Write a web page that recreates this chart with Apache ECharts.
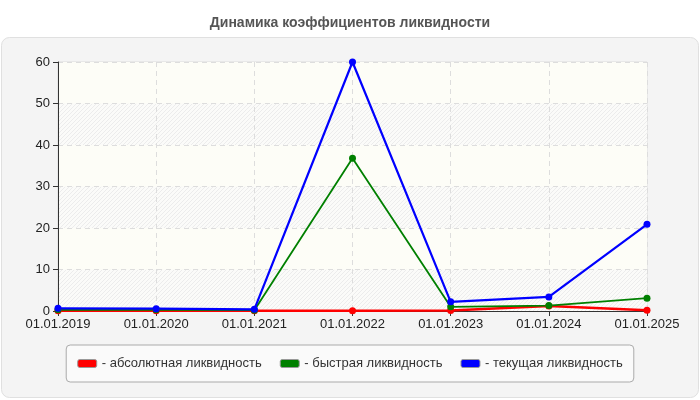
<!DOCTYPE html>
<html>
<head>
<meta charset="utf-8">
<script src="https://cdn.jsdelivr.net/npm/echarts@6/dist/echarts.min.js"></script>
<style>
  html, body { margin: 0; padding: 0; background: #fff; }
  #chart { width: 700px; height: 400px; }
</style>
</head>
<body>
<div id="chart"></div>
<script>
// даты и значения коэффициентов
var dates = ['01.01.2019', '01.01.2020', '01.01.2021', '01.01.2022', '01.01.2023', '01.01.2024', '01.01.2025'];
var absLiq = [0.07, 0.05, 0.05, 0.05, 0.1, 1.2, 0.2];
var quickLiq = [0.3, 0.3, 0.2, 36.8, 1.0, 1.3, 3.1];
var currentLiq = [0.65, 0.55, 0.4, 60, 2.2, 3.4, 20.9];
var seriesNames = ['- абсолютная ликвидность', '- быстрая ликвидность', '- текущая ликвидность'];

// штриховка для полос фона
var hatch = document.createElement('canvas');
hatch.width = 4;
hatch.height = 4;
var ctx = hatch.getContext('2d');
ctx.fillStyle = '#fbfbf9';
ctx.fillRect(0, 0, 4, 4);
ctx.strokeStyle = '#ececec';
ctx.lineWidth = 1;
ctx.beginPath();
ctx.moveTo(0, 4); ctx.lineTo(4, 0);
ctx.moveTo(-1, 1); ctx.lineTo(1, -1);
ctx.moveTo(3, 5); ctx.lineTo(5, 3);
ctx.stroke();

var myChart = echarts.init(document.getElementById('chart'));

var font = 'Liberation Sans, Arial, sans-serif';

function lineSeries(name, data, color, width) {
    return {
        name: name,
        type: 'line',
        data: data,
        symbol: 'circle',
        symbolSize: 7,
        animation: false,
        lineStyle: { color: color, width: width },
        itemStyle: { color: color }
    };
}

var option = {
    backgroundColor: '#fff',
    textStyle: { fontFamily: font },
    title: {
        text: 'Динамика коэффициентов ликвидности',
        left: 'center',
        top: 11,
        textStyle: { fontSize: 14, fontWeight: 'bold', color: '#555', fontFamily: font }
    },
    graphic: [{
        type: 'rect',
        z: -10,
        shape: { x: 1.5, y: 37.5, width: 697, height: 360, r: 8 },
        style: { fill: '#f4f4f4', stroke: '#e0e0e0', lineWidth: 1 }
    }],
    grid: {
        left: 58, right: 53, top: 62, bottom: 89,
        show: true,
        borderColor: '#dddddd',
        borderWidth: 1,
        backgroundColor: '#fdfdf7'
    },
    legend: {
        left: 'center',
        top: 345,
        padding: [12, 11, 12, 11],
        itemGap: 18,
        itemWidth: 19,
        itemHeight: 8,
        icon: 'roundRect',
        backgroundColor: '#fafafa',
        borderColor: '#aaaaaa',
        borderWidth: 1,
        borderRadius: 4,
        itemStyle: { borderColor: '#999', borderWidth: 1 },
        textStyle: { fontSize: 13, color: '#333', fontFamily: font },
        data: seriesNames
    },
    xAxis: {
        type: 'category',
        data: dates,
        boundaryGap: false,
        axisLine: { lineStyle: { color: '#333', width: 1 } },
        axisTick: { show: true, length: 5, lineStyle: { color: '#333' } },
        axisLabel: { fontSize: 13, color: '#222', margin: 7 },
        splitLine: { show: true, lineStyle: { color: '#dddddd', type: [5, 4] } }
    },
    yAxis: {
        type: 'value',
        min: 0,
        max: 60,
        interval: 10,
        axisLine: { show: true, lineStyle: { color: '#333', width: 1 } },
        axisTick: { show: true, length: 5, lineStyle: { color: '#333' } },
        axisLabel: { fontSize: 13, color: '#222', margin: 8 },
        splitLine: { show: true, lineStyle: { color: '#dddddd', type: [5, 4] } },
        splitArea: {
            show: true,
            areaStyle: { color: [{ image: hatch, repeat: 'repeat' }, '#fdfdf7'] }
        }
    },
    series: [
        lineSeries(seriesNames[0], absLiq, '#ff0000', 2.5),
        lineSeries(seriesNames[1], quickLiq, '#008000', 1.8),
        lineSeries(seriesNames[2], currentLiq, '#0000ff', 2.2)
    ]
};

myChart.setOption(option);
</script>
</body>
</html>
